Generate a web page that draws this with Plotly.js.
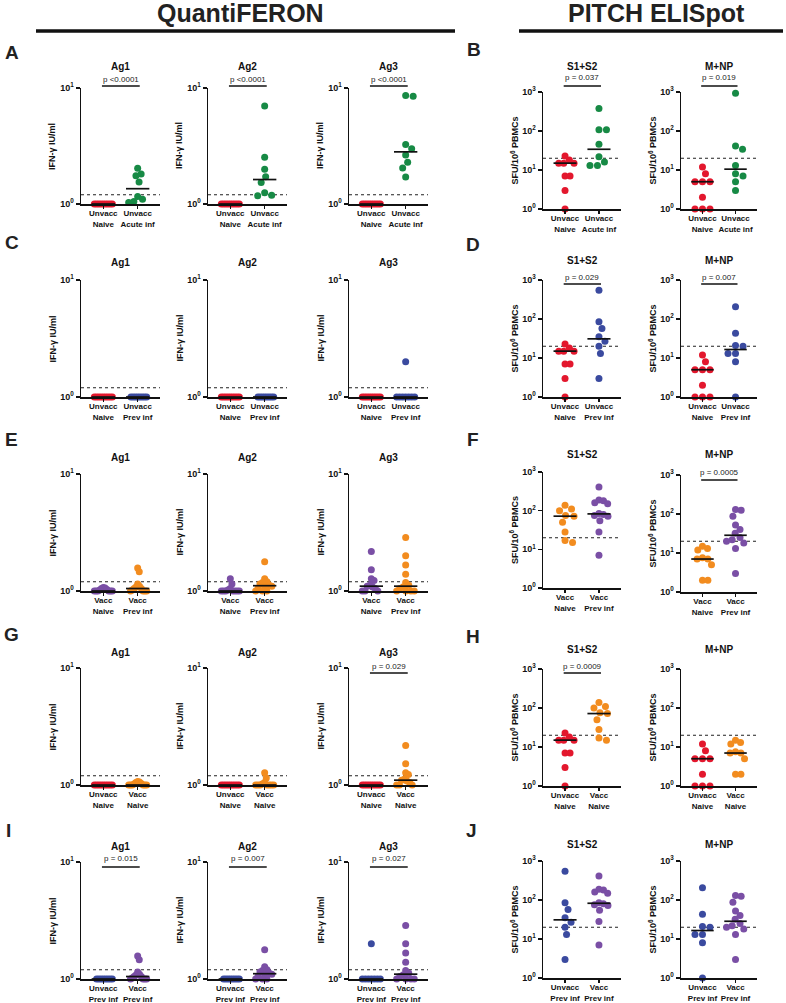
<!DOCTYPE html>
<html><head><meta charset="utf-8">
<script src="https://cdn.plot.ly/plotly-3.0.1.min.js"></script>
<style>body{margin:0;background:#fff}#chart{width:786px;height:1003px}</style>
</head><body><div id="chart"></div>
<script>
// ---------------- data ----------------
const headers = ['QuantiFERON', 'PITCH ELISpot'];
const panelLetters = ['A','B','C','D','E','F','G','H','I','J'];
const qTitles = ['Ag1','Ag2','Ag3'];
const eTitles = ['S1+S2','M+NP'];
const qTickVals = [1, 10];
const qTickText = ['<b>10<sup>0</sup></b>','<b>10<sup>1</sup></b>'];
const eTickVals = [1, 10, 100, 1000];
const eTickText = ['<b>10<sup>0</sup></b>','<b>10<sup>1</sup></b>','<b>10<sup>2</sup></b>','<b>10<sup>3</sup></b>'];
const qYTitle = '<b>IFN-γ IU/ml</b>';
const eYTitle = '<b>SFU/10<sup>6</sup> PBMCs</b>';
const qThreshold = 1.2;
const eThreshold = 20;

const lblUnvaccNaive = 'Unvacc<br>Naive';
const lblUnvaccAcute = 'Unvacc<br>Acute inf';
const lblUnvaccPrev = 'Unvacc<br>Prev inf';
const lblVaccNaive = 'Vacc<br>Naive';
const lblVaccPrev = 'Vacc<br>Prev inf';

// QuantiFERON (IFN-γ IU/ml)
const qUnvaccNaive_Ag1 = [1,1,1,1,1,1,1,1,1];
const qUnvaccNaive_Ag2 = [1,1,1,1,1,1,1,1,1];
const qUnvaccNaive_Ag3 = [1,1,1,1,1,1,1,1,1];
const qAcute_Ag1 = [2.03,1.81,1.75,1.55,1.16,1.10,1.05,1.03];
const qAcute_Ag2 = [7.0,2.53,1.99,1.72,1.53,1.25,1.19,1.18];
const qAcute_Ag3 = [8.6,8.5,3.26,2.99,2.64,2.29,2.04,1.71];
const qUnvaccPrev_Ag1 = [1,1,1,1,1,1,1,1];
const qUnvaccPrev_Ag2 = [1,1,1,1,1,1,1,1];
const qUnvaccPrev_Ag3 = [2.0,1,1,1,1,1,1,1];
const qVaccNaive_Ag1 = [1.07,1.06,1.05,1.03,1.02,1,1,1,1,1,1];
const qVaccNaive_Ag2 = [1.27,1.15,1.05,1.02,1,1,1,1,1,1,1];
const qVaccNaive_Ag3 = [2.18,1.52,1.27,1.23,1.12,1.1,1.08,1.05,1,1,1];
const qVaccPrev_Ag1 = [1.57,1.46,1.15,1.1,1.08,1.05,1.05,1.02,1,1,1,1];
const qVaccPrev_Ag2 = [1.78,1.27,1.2,1.18,1.15,1.12,1.1,1.08,1.05,1,1,1];
const qVaccPrev_Ag3 = [2.87,2.0,1.67,1.39,1.18,1.12,1.08,1.05,1,1,1,1];

// PITCH ELISpot (SFU/10^6 PBMCs)
const eUnvaccNaive_S = [23,18,15,15,15,7,7,3,1];
const eUnvaccNaive_M = [12,8,5,5,5,2,1,1,1];
const eAcute_S = [380,108,108,46,22,16,13,13];
const eAcute_M = [925,41,34,13,8,7,5,3];
const eUnvaccPrev_S = [550,85,57,35,27,20,13,3];
const eUnvaccPrev_M = [206,43,21,20,13,13,8,1];
const eVaccNaive_S = [138,110,100,75,72,50,28,17,15];
const eVaccNaive_M = [15,13,12,7.5,7,7,5,2,2];
const eVaccPrev_S = [410,190,180,160,150,85,80,75,72,55,28,7];
const eVaccPrev_M = [130,125,88,52,40,32,25,22,20,18,13,3];

const cRed = '#E3172D', cGreen = '#178A45', cBlue = '#3A4A9F', cPurple = '#7A4FA5', cOrange = '#F28C1F';

const rowQData = [
  [[qUnvaccNaive_Ag1,qUnvaccNaive_Ag2,qUnvaccNaive_Ag3],[qAcute_Ag1,qAcute_Ag2,qAcute_Ag3]],
  [[qUnvaccNaive_Ag1,qUnvaccNaive_Ag2,qUnvaccNaive_Ag3],[qUnvaccPrev_Ag1,qUnvaccPrev_Ag2,qUnvaccPrev_Ag3]],
  [[qVaccNaive_Ag1,qVaccNaive_Ag2,qVaccNaive_Ag3],[qVaccPrev_Ag1,qVaccPrev_Ag2,qVaccPrev_Ag3]],
  [[qUnvaccNaive_Ag1,qUnvaccNaive_Ag2,qUnvaccNaive_Ag3],[qVaccNaive_Ag1,qVaccNaive_Ag2,qVaccNaive_Ag3]],
  [[qUnvaccPrev_Ag1,qUnvaccPrev_Ag2,qUnvaccPrev_Ag3],[qVaccPrev_Ag1,qVaccPrev_Ag2,qVaccPrev_Ag3]]
];
const rowEData = [
  [[eUnvaccNaive_S,eUnvaccNaive_M],[eAcute_S,eAcute_M]],
  [[eUnvaccNaive_S,eUnvaccNaive_M],[eUnvaccPrev_S,eUnvaccPrev_M]],
  [[eVaccNaive_S,eVaccNaive_M],[eVaccPrev_S,eVaccPrev_M]],
  [[eUnvaccNaive_S,eUnvaccNaive_M],[eVaccNaive_S,eVaccNaive_M]],
  [[eUnvaccPrev_S,eUnvaccPrev_M],[eVaccPrev_S,eVaccPrev_M]]
];
const rowLabels = [
  [lblUnvaccNaive,lblUnvaccAcute],[lblUnvaccNaive,lblUnvaccPrev],[lblVaccNaive,lblVaccPrev],
  [lblUnvaccNaive,lblVaccNaive],[lblUnvaccPrev,lblVaccPrev]
];
const rowColorsQ = [[cRed,cGreen],[cRed,cBlue],[cPurple,cOrange],[cRed,cOrange],[cBlue,cPurple]];
const rowColorsE = [[cRed,cGreen],[cRed,cBlue],[cOrange,cPurple],[cRed,cOrange],[cBlue,cPurple]];
const pQ = [['p <0.0001','p <0.0001','p <0.0001'],[null,null,null],[null,null,null],[null,null,'p = 0.029'],['p = 0.015','p = 0.007','p = 0.027']];
const pE = [['p = 0.037','p = 0.019'],['p = 0.029','p = 0.007'],[null,'p = 0.0005'],['p = 0.0009',null],[null,null]];

// ---------------- layout geometry (pixels) ----------------
const W = 786, H = 1003;
const FONT = 'Liberation Sans, Arial, sans-serif';
const colsPx = [[81,160],[208,287],[349,428],[543,621],[681,757]];
const rowsPx = [
  {q:[88,204], e:[[92,209],[92,209]], tq:67, te:66, pq:79, pe:78, bq:86, be:86},
  {q:[280,397], e:[[280,397],[280,397]], tq:262, te:260, pq:277, pe:277, bq:284, be:284},
  {q:[474,591], e:[[472,588],[475,592]], tq:457, te:454, pq:472, pe:472, bq:480, be:480},
  {q:[668,785], e:[[669,786],[669,786]], tq:652, te:649, pq:666, pe:666, bq:673, be:673},
  {q:[862,979], e:[[861,978],[861,978]], tq:846, te:844, pq:858, pe:858, bq:867, be:867}
];
const letterPos = [[12,53],[474,50],[12,242],[473,245],[11,440],[473,440],[11,634],[473,636],[8,830],[471,830]];
const xr = [-0.65, 1.65];
const px = p => p / W;
const py = p => 1 - p / H;

function median(a){const s=a.slice().sort((x,y)=>x-y);const n=s.length;return n%2?s[(n-1)/2]:(s[n/2-1]+s[n/2])/2;}

function swarm(vals, pxPerDec, pxPerUnit, diam, maxHalf){
  const pts = vals.map((v,i)=>({i, y:Math.log10(v)*pxPerDec, x:0}));
  const order = pts.slice().sort((a,b)=>b.y-a.y);
  const placed = [];
  for(const p of order){
    let off = 0;
    for(let k=0;k<400;k++){
      const c = k===0?0:((k%2)?1:-1)*Math.ceil(k/2)*0.5;
      if(placed.every(q=>(q.x-c)*(q.x-c)+(q.y-p.y)*(q.y-p.y) >= diam*diam)){off=c;break;}
    }
    p.x = off; placed.push(p);
  }
  const m = Math.max(0.0001, ...placed.map(p=>Math.abs(p.x)));
  const s = m > maxHalf ? maxHalf/m : 1;
  return pts.map(p=>p.x*s/pxPerUnit);
}

const traces = [], layout = {
  width: W, height: H, margin:{l:0,r:0,t:0,b:0},
  paper_bgcolor:'#fff', plot_bgcolor:'rgba(0,0,0,0)', showlegend:false,
  font:{family:FONT, color:'#111', size:9}, annotations:[], shapes:[]
};

function addPanel(idx, cPx, rPx, yRange, tv, tt, groups, colors, labels, title, titleY, pText, pY, brY, yTitle, thr){
  const xa = 'x'+(idx===1?'':idx), ya = 'y'+(idx===1?'':idx);
  const pxPerUnit = (cPx[1]-cPx[0])/(xr[1]-xr[0]);
  const pxPerDec = (rPx[1]-rPx[0])/(yRange[1]-yRange[0]);
  layout['xaxis'+(idx===1?'':idx)] = {
    domain:[px(cPx[0]), px(cPx[1])], anchor:ya, range:xr, tickvals:[0,1], ticktext:labels.map(s=>'<b>'+s+'</b>'),
    tickangle:0, ticklabelstandoff:-2,
    showline:true, linecolor:'#111', linewidth:1.5, ticks:'outside', ticklen:3, tickwidth:1.2, tickcolor:'#111',
    tickfont:{size:8, family:FONT, color:'#111'}, showgrid:false, zeroline:false, fixedrange:true
  };
  layout['yaxis'+(idx===1?'':idx)] = {
    domain:[py(rPx[1]), py(rPx[0])], anchor:xa, type:'log', range:yRange, tickvals:tv, ticktext:tt,
    showline:true, linecolor:'#111', linewidth:1.5, ticks:'outside', ticklen:4, tickwidth:1.2, tickcolor:'#111',
    tickfont:{size:9, family:FONT, color:'#111'}, showgrid:false, zeroline:false, fixedrange:true
  };
  traces.push({x:[xr[0],xr[1]], y:[thr,thr], mode:'lines', xaxis:xa, yaxis:ya,
    line:{dash:'dot', width:1.1, color:'#222'}, hoverinfo:'skip'});
  groups.forEach((g,gi)=>{
    const off = swarm(g, pxPerDec, pxPerUnit, 7.4, 9);
    traces.push({x:g.map((v,i)=>gi+off[i]), y:g, mode:'markers', xaxis:xa, yaxis:ya, cliponaxis:false,
      marker:{size:7, color:colors[gi], line:{width:0}}, hoverinfo:'y'});
  });
  groups.forEach((g,gi)=>{
    const m = median(g);
    traces.push({x:[gi-0.34, gi+0.34], y:[m,m], mode:'lines', xaxis:xa, yaxis:ya, cliponaxis:false,
      line:{width:1.7, color:'#111'}, hoverinfo:'skip'});
  });
  const cx = (cPx[0]+cPx[1])/2;
  layout.annotations.push({xref:'paper', yref:'paper', x:px(cx), y:py(titleY), text:'<b>'+title+'</b>',
    showarrow:false, xanchor:'center', yanchor:'middle', font:{size:10, family:FONT, color:'#111'}});
  layout.annotations.push({xref:'paper', yref:'paper', x:px(cPx[0]-29), y:py((rPx[0]+rPx[1])/2), text:yTitle,
    textangle:-90, showarrow:false, xanchor:'center', yanchor:'middle', font:{size:9, family:FONT, color:'#111'}});
  if(pText){
    const x0 = cPx[0] + (-0.04 - xr[0])*pxPerUnit, x1 = cPx[0] + (1.06 - xr[0])*pxPerUnit;
    layout.shapes.push({type:'line', xref:'paper', yref:'paper', x0:px(x0), x1:px(x1), y0:py(brY), y1:py(brY),
      line:{color:'#111', width:1.5}});
    layout.annotations.push({xref:'paper', yref:'paper', x:px((x0+x1)/2), y:py(pY), text:pText,
      showarrow:false, xanchor:'center', yanchor:'middle', font:{size:8, family:FONT, color:'#222'}});
  }
}

let idx = 1;
for(let r=0;r<5;r++){
  const R = rowsPx[r];
  for(let c=0;c<3;c++){
    addPanel(idx++, colsPx[c], R.q, [0,1], qTickVals, qTickText,
      [rowQData[r][0][c], rowQData[r][1][c]], rowColorsQ[r], rowLabels[r], qTitles[c], R.tq, pQ[r][c], R.pq, R.bq, qYTitle, qThreshold);
  }
  for(let c=0;c<2;c++){
    addPanel(idx++, colsPx[3+c], R.e[c], [0,3], eTickVals, eTickText,
      [rowEData[r][0][c], rowEData[r][1][c]], rowColorsE[r], rowLabels[r], eTitles[c], R.te, pE[r][c], R.pe, R.be, eYTitle, eThreshold);
  }
}

// headers
layout.annotations.push({xref:'paper', yref:'paper', x:px(240), y:py(13), text:'<b>'+headers[0]+'</b>', showarrow:false,
  xanchor:'center', yanchor:'middle', font:{size:25, family:FONT, color:'#222'}});
layout.annotations.push({xref:'paper', yref:'paper', x:px(656), y:py(13), text:'<b>'+headers[1]+'</b>', showarrow:false,
  xanchor:'center', yanchor:'middle', font:{size:25, family:FONT, color:'#222'}});
layout.shapes.push({type:'line', xref:'paper', yref:'paper', x0:px(36), x1:px(455), y0:py(31), y1:py(31), line:{color:'#111', width:3.5}});
layout.shapes.push({type:'line', xref:'paper', yref:'paper', x0:px(519), x1:px(783), y0:py(31), y1:py(31), line:{color:'#111', width:3.5}});
panelLetters.forEach((L,i)=>{
  layout.annotations.push({xref:'paper', yref:'paper', x:px(letterPos[i][0]), y:py(letterPos[i][1]), text:'<b>'+L+'</b>',
    showarrow:false, xanchor:'center', yanchor:'middle', font:{size:19, family:FONT, color:'#222'}});
});

Plotly.newPlot('chart', traces.map(t=>Object.assign({showlegend:false}, t)), layout, {displayModeBar:false, staticPlot:true});
</script>
</body></html>
